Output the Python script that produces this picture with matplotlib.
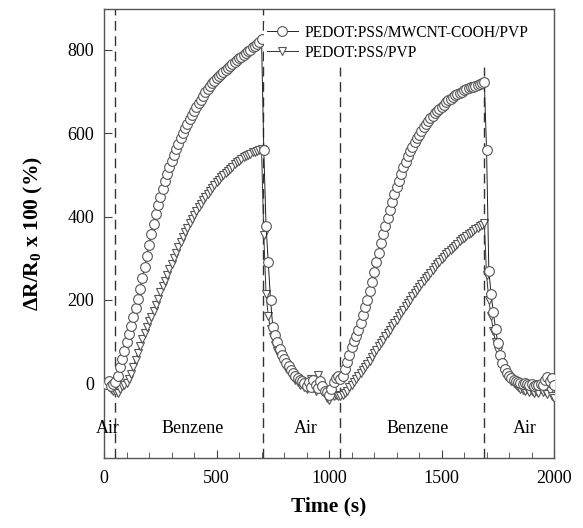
import numpy as np
import matplotlib
matplotlib.use("Agg")
import matplotlib.pyplot as plt

plt.rcParams['font.family'] = ['Liberation Serif', 'DejaVu Serif']
plt.rcParams['mathtext.fontset'] = 'custom'
plt.rcParams['mathtext.rm'] = 'Liberation Serif'
plt.rcParams['mathtext.bf'] = 'Liberation Serif:bold'

# sampling time (s), one point every 10 s
time_s = np.arange(0, 2001, 10)

# PEDOT:PSS/MWCNT-COOH/PVP  (10 per row = 100 s)
mwcnt = [
    0, -3, 4, -6, -2, 3, 18, 38, 58, 78,
    98, 118, 138, 158, 180, 203, 227, 252, 278, 305,
    332, 358, 383, 406, 428, 448, 467, 485, 502, 518,
    533, 548, 562, 575, 588, 600, 612, 623, 634, 644,
    654, 663, 672, 681, 690, 698, 706, 713, 720, 726,
    732, 737, 742, 747, 752, 757, 762, 766, 771, 775,
    780, 784, 789, 793, 797, 801, 806, 810, 814, 819,
    826, 560, 378, 290, 200, 135, 115, 98, 82, 68,
    57, 48, 40, 32, 25, 18, 12, 8, 4, 0,
    -6, 2, -10, 8, -4, -12, 6, -8, -18, -22,
    -28, -15, 2, 12, 18, 10, 18, 33, 50, 68,
    86, 100, 114, 128, 145, 163, 182, 200, 222, 243,
    267, 290, 312, 336, 358, 378, 397, 416, 436, 454,
    470, 486, 503, 518, 532, 545, 557, 568, 578, 588,
    597, 606, 614, 622, 629, 636, 642, 648, 654, 659,
    664, 669, 674, 679, 683, 687, 691, 694, 697, 700,
    703, 706, 708, 710, 712, 714, 716, 718, 720, 722,
    560, 270, 215, 170, 130, 95, 68, 48, 34, 24,
    17, 12, 8, 5, 3, 0, -2, 0, -3, -5,
    -2, -6, -4, -5, -3, -5, 8, 15, 5, 12,
    -5,
]

# PEDOT:PSS/PVP
pvp = [
    -5, 0, -10, -15, -20, -18, -25, -15, -8, -5,
    0, 10, 22, 38, 55, 73, 90, 106, 120, 134,
    148, 158, 172, 188, 203, 218, 232, 246, 260, 274,
    287, 300, 313, 326, 338, 350, 362, 373, 384, 394,
    404, 413, 422, 431, 439, 447, 455, 462, 469, 476,
    482, 488, 494, 500, 505, 510, 515, 520, 525, 530,
    534, 538, 542, 545, 548, 551, 554, 556, 558, 560,
    562, 355, 215, 160, 130, 110, 92, 78, 65, 55,
    45, 36, 28, 20, 14, 8, 2, -5, 0, -10,
    -15, -5, 10, -12, -20, 20, 0, -15, -25, -35,
    -40, -25, -30, -28, -32, -30, -28, -24, -18, -10,
    -4, 3, 10, 17, 24, 31, 38, 46, 54, 62,
    72, 80, 88, 96, 104, 112, 120, 128, 136, 144,
    152, 160, 168, 176, 184, 192, 200, 208, 216, 223,
    230, 238, 245, 252, 258, 265, 272, 278, 285, 291,
    297, 303, 309, 314, 320, 325, 330, 335, 340, 345,
    349, 353, 357, 361, 365, 369, 373, 377, 380, 384,
    260, 200, 160, 125, 98, 76, 58, 43, 30, 20,
    12, 5, 0, -5, -10, -14, -17, -20, -15, -22,
    -18, -25, -20, -24, -15, -22, -18, -26, -20, -30,
    -36,
]

# gas switching times and the labels of each period
switch_times = [50, 705, 1050, 1688]
period_labels = ["Air", "Benzene", "Air", "Benzene", "Air"]
label_times = [15, 395, 895, 1395, 1870]

fig = plt.figure(figsize=(5.83, 5.28), dpi=100)
ax = fig.add_axes([0.1784, 0.1326, 0.772, 0.850])

# the two lines under the legend stop just below it
line_tops = [1.0, 1.0, 0.871, 0.871]
for t, top in zip(switch_times, line_tops):
    ax.axvline(t, ymax=top, color='#333333', lw=1.0, ls=(0, (7, 4)), zorder=1)

ax.plot(time_s, pvp, color='#333333', lw=0.7, marker='v', ms=5.5,
        mfc='white', mec='#555555', mew=0.8, zorder=3,
        label='PEDOT:PSS/PVP')
ax.plot(time_s, mwcnt, color='#222222', lw=0.7, marker='o', ms=7,
        mfc='white', mec='#555555', mew=0.8, zorder=4,
        label='PEDOT:PSS/MWCNT-COOH/PVP')

for lab, t in zip(period_labels, label_times):
    ax.text(t, -110, lab, ha='center', va='center', fontsize=13)

ax.set_xlim(0, 2000)
ax.set_ylim(-180, 898)
ax.set_xticks([0, 500, 1000, 1500, 2000])
ax.set_xticks(np.arange(0, 2001, 100), minor=True)
ax.set_yticks([0, 200, 400, 600, 800])
ax.tick_params(axis='both', which='both', direction='in', top=False, right=False,
               labelsize=13, color='#444444')
ax.tick_params(axis='x', which='major', length=6, pad=9)
ax.tick_params(axis='x', which='minor', length=4)
ax.tick_params(axis='y', which='major', length=6, pad=7)
for sp in ax.spines.values():
    sp.set_color('#555555')
    sp.set_linewidth(1.0)

ax.set_xlabel('Time (s)', fontsize=15.5, fontweight='bold')
ax.set_ylabel(r'ΔR/R$_{\mathbf{0}}$ x 100 (%)', fontsize=15.5, fontweight='bold')
ax.yaxis.set_label_coords(-0.132, 0.5)
ax.xaxis.set_label_coords(0.5, -0.085)

handles, labels = ax.get_legend_handles_labels()
leg = ax.legend(handles[::-1], labels[::-1], loc='upper left',
                bbox_to_anchor=(0.355, 0.972), fontsize=11.2, frameon=True,
                handlelength=2.0, handletextpad=0.4, labelspacing=0.25,
                borderpad=0.2, borderaxespad=0.0)
leg.get_frame().set_facecolor('white')
leg.get_frame().set_edgecolor('none')
leg.get_frame().set_alpha(1.0)
leg.set_zorder(10)

fig.savefig('out.png', dpi=100)
